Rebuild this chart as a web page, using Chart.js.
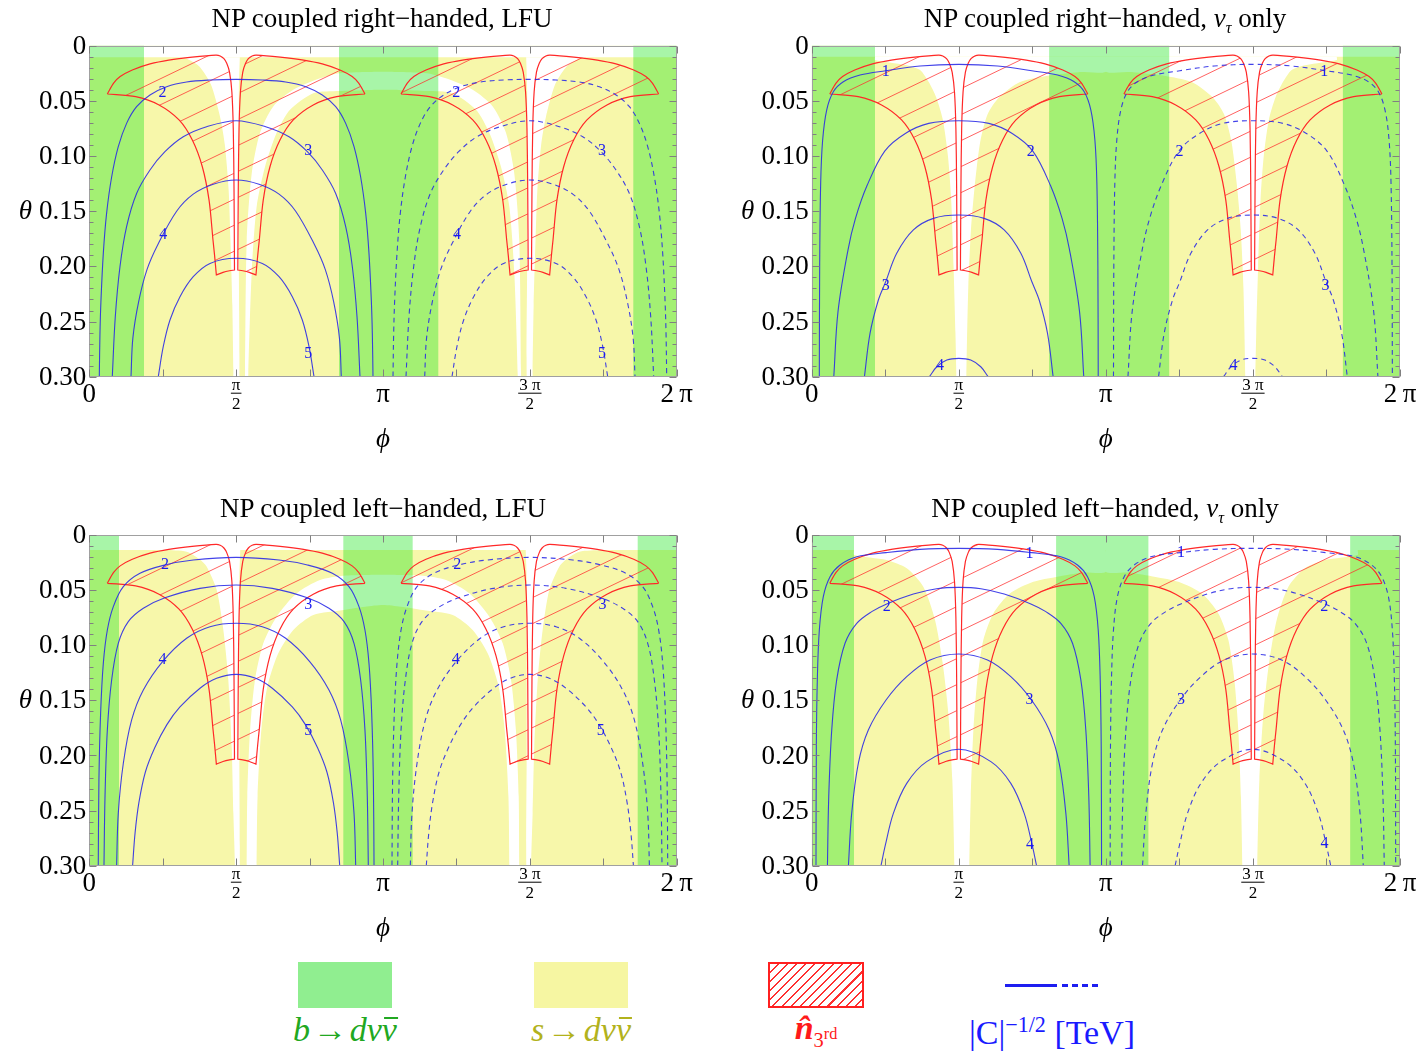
<!DOCTYPE html>
<html>
<head>
<meta charset="utf-8">
<script src="https://cdn.jsdelivr.net/npm/chart.js"></script>
<style>
  body { margin: 0; width: 1426px; height: 1053px; background: #fff; position: relative; overflow: hidden;
         font-family: "Liberation Serif", "Times New Roman", serif; }
  canvas { position: absolute; }
  .title { position: absolute; font-size: 27px; white-space: nowrap; transform: translate(-50%, -50%); line-height: 1; }
  .title sub { font-size: 0.6em; font-style: italic; line-height: 0; }
  .box { position: absolute; }
  .lt { position: absolute; font-size: 34px; white-space: nowrap; transform: translate(-50%, -50%); line-height: 1; }
  .lt sub, .lt sup { line-height: 0; }
  .ob { position: relative; display: inline-block; }
  .ob::after { content: ''; position: absolute; left: 18%; right: -8%; top: 0.12em; border-top: 2px solid currentColor; }
</style>
</head>
<body>
<canvas id="p1" width="713" height="470" style="left:0;top:0"></canvas>
<canvas id="p2" width="713" height="470" style="left:713px;top:0"></canvas>
<canvas id="p3" width="713" height="470" style="left:0;top:490px"></canvas>
<canvas id="p4" width="713" height="470" style="left:713px;top:490px"></canvas>

<div class="title" style="left:382px;top:18px">NP coupled right−handed, LFU</div>
<div class="title" style="left:1105px;top:18px">NP coupled right−handed, <i>ν</i><sub>τ</sub> only</div>
<div class="title" style="left:383px;top:508px">NP coupled left−handed, LFU</div>
<div class="title" style="left:1105px;top:508px">NP coupled left−handed, <i>ν</i><sub>τ</sub> only</div>

<!-- legend -->
<div class="box" style="left:298px;top:962px;width:94px;height:46px;background:#90ee90"></div>
<div class="box" style="left:534px;top:962px;width:94px;height:46px;background:#f6f6a2"></div>
<div class="box" style="left:768px;top:962px;width:92px;height:42px;border:2px solid #ff2020;
     background:repeating-linear-gradient(135deg, transparent 0 5px, #ff3030 5px 6.5px)"></div>
<div class="box" style="left:1005px;top:984px;width:52px;height:3px;background:#1e1ef0"></div>
<div class="box" style="left:1062px;top:984px;width:38px;height:3px;background:repeating-linear-gradient(90deg,#1e1ef0 0 6px,transparent 6px 10px)"></div>
<div class="lt" style="left:345px;top:1030px;color:#21a821"><i>b</i>&#8202;→&#8202;<i>dν</i><i class="ob">ν</i></div>
<div class="lt" style="left:581px;top:1030px;color:#b2b21c"><i>s</i>&#8202;→&#8202;<i>dν</i><i class="ob">ν</i></div>
<div class="lt" style="left:816px;top:1028px;color:#ff1a1a"><i><b>n̂</b></i><sub style="font-size:0.6em">3<sup style="font-size:0.8em">rd</sup></sub></div>
<div class="lt" style="left:1052px;top:1033px;color:#1a1aff">|C|<sup style="font-size:0.65em">−1/2</sup> [TeV]</div>

<script>
const TWO_PI = 2 * Math.PI;

// axis ticks (phi in radians, theta)
const phiTickMarks = [0, 0.25, 0.5, 0.75, 1, 1.25, 1.5, 1.75, 2].map(k => k * Math.PI);
const phiLabelVals = [0, Math.PI / 2, Math.PI, 3 * Math.PI / 2, TWO_PI];
const phiLabelText = ['0', ['π', '2'], 'π', ['3 π', '2'], '2\u2009π'];
const thetaLabelVals = [0, 0.05, 0.10, 0.15, 0.20, 0.25, 0.30];
const thetaLabelText = ['0', '0.05', '0.10', '0.15', '0.20', '0.25', '0.30'];

// n_3rd region: left half of the cup around pi/2, [phi, theta]
const cupHalf = [[0.193,0.0438],[0.193,0.0438],[0.26,0.034],[0.33,0.028],[0.46,0.022],[0.65,0.0165],[0.85,0.013],
  [1.10,0.0103],[1.355,0.0085],[1.40,0.0093],[1.44,0.0118],[1.47,0.016],[1.50,0.024],[1.525,0.042],[1.540,0.075],
  [1.548,0.13],[1.553,0.2033],[1.553,0.2033],[1.50,0.2040],[1.43,0.2055],[1.359,0.2078],[1.359,0.2078],[1.34,0.19],
  [1.323,0.1761],[1.281,0.140],[1.209,0.1097],[1.102,0.0855],[0.960,0.0673],[0.746,0.0537],[0.496,0.0462],[0.193,0.0438]];

// ---------- panel 1 : right-handed, LFU ----------
const p1Strips = [[0, 0.585], [2.671, 3.733], [5.819, TWO_PI]];
const p1Top = 0.0105;
const p1V = [[0.95,0.0105],[1.05,0.012],[1.18,0.019],[1.30,0.035],[1.40,0.065],[1.45,0.09],[1.49,0.13],[1.51,0.176],
  [1.53,0.235],[1.541,0.294],[1.545,0.32],[1.60,0.32],[1.60,0.20],[1.60,0.10],[1.60,0.04],[1.61,0.0105]];
const p1BandUp = [[1.664,0.32],[1.666,0.294],[1.684,0.176],[1.737,0.116],[1.826,0.079],[1.968,0.055],[2.182,0.040],
  [2.468,0.0296],[2.674,0.025],[2.95,0.0238],[3.1416,0.0235]];
const p1BandLow = [[1.70,0.32],[1.701,0.297],[1.737,0.206],[1.790,0.146],[1.879,0.110],[2.004,0.079],[2.147,0.058],
  [2.396,0.043],[2.674,0.041],[2.95,0.0403],[3.1416,0.040]];
const p1C2 = [[0.107,0.30],[0.114,0.261],[0.125,0.2305],[0.150,0.188],[0.185,0.152],[0.239,0.119],[0.310,0.0915],
  [0.399,0.0704],[0.506,0.0553],[0.649,0.0447],[0.827,0.0372],[1.041,0.0329],[1.291,0.0311],[1.571,0.0305]];
const p1C3 = [[0.246,0.30],[0.278,0.2457],[0.328,0.2003],[0.399,0.164],[0.506,0.134],[0.649,0.1127],[0.809,0.0961],
  [1.005,0.0825],[1.255,0.0734],[1.571,0.068]];
const p1C4 = [[0.446,0.30],[0.466,0.265],[0.528,0.232],[0.617,0.203],[0.735,0.180],[0.934,0.150],[1.112,0.1345],
  [1.326,0.1255],[1.571,0.1217]];
const p1C5 = [[0.738,0.30],[0.791,0.2728],[0.863,0.2486],[0.970,0.2275],[1.112,0.2094],[1.291,0.1973],[1.571,0.1927]];
const p1Labels = [[0.784,0.043,'2'],[2.342,0.095,'3'],[0.791,0.1716,'4'],[2.342,0.2795,'5'],
  [3.926,0.043,'2'],[5.484,0.095,'3'],[3.933,0.1716,'4'],[5.484,0.2795,'5']];

// ---------- panel 2 : right-handed, nu_tau only ----------
const p2Strips = [[0, 0.676], [2.536, 3.818], [5.673, TWO_PI]];
const p2Top = 0.0100;
const p2V = [[0.676,0.0100],[0.676,0.0129],[1.0,0.0175],[1.157,0.022],[1.25,0.033],[1.33,0.047],[1.40,0.067],[1.455,0.10],
  [1.49,0.14],[1.515,0.20],[1.535,0.26],[1.545,0.30],[1.545,0.32],[1.652,0.32],[1.652,0.30],[1.672,0.22],[1.70,0.168],
  [1.74,0.128],[1.80,0.087],[1.88,0.062],[2.0,0.047],[2.225,0.033],[2.536,0.027],[2.85,0.024],[3.1416,0.0235],[3.1416,0.0100]];
const p2C1 = [[0.0815,0.30],[0.0851,0.2003],[0.0958,0.1248],[0.117,0.0855],[0.160,0.0583],[0.231,0.0417],[0.338,0.0326],
  [0.516,0.0266],[0.790,0.0227],[1.157,0.0184],[1.571,0.0169]];
const p2C2 = [[0.236,0.30],[0.281,0.241],[0.388,0.185],[0.466,0.157],[0.590,0.127],[0.780,0.0955],[1.000,0.0795],
  [1.250,0.0704],[1.571,0.068]];
const p2C3 = [[0.563,0.30],[0.623,0.2607],[0.712,0.2305],[0.790,0.2140],[0.908,0.1882],[1.086,0.167],[1.300,0.1565],[1.571,0.1535]];
const p2C4 = [[1.257,0.30],[1.336,0.291],[1.443,0.2849],[1.571,0.2834]];
const p2Labels = [[0.79,0.0236,'1'],[2.34,0.096,'2'],[0.79,0.218,'3'],[1.371,0.290,'4'],
  [5.473,0.0236,'1'],[3.927,0.096,'2'],[5.487,0.218,'3'],[4.504,0.290,'4']];

// ---------- panel 3 : left-handed, LFU ----------
const p3Strips = [[0, 0.318], [2.717, 3.459], [5.866, TWO_PI]];
const p3Top = 0.0136;
const p3V = [[0.8,0.0136],[1.042,0.0151],[1.18,0.022],[1.256,0.0287],[1.363,0.0499],[1.434,0.0862],[1.487,0.1315],
  [1.523,0.192],[1.541,0.2525],[1.558,0.30],[1.558,0.32],[1.605,0.32],[1.605,0.20],[1.605,0.10],[1.605,0.04],[1.615,0.0136]];
const p3BandUp = [[1.684,0.32],[1.684,0.30],[1.69,0.237],[1.72,0.177],[1.772,0.1315],[1.861,0.0983],[2.004,0.0741],
  [2.218,0.0529],[2.468,0.0408],[2.717,0.0369],[2.95,0.0362],[3.1416,0.036]];
const p3BandLow = [[1.79,0.32],[1.79,0.30],[1.80,0.237],[1.84,0.177],[1.904,0.1376],[2.022,0.1073],[2.182,0.0862],
  [2.396,0.0726],[2.717,0.0680],[2.95,0.065],[3.1416,0.0635]];
const p3C2 = [[0.096,0.30],[0.103,0.2223],[0.121,0.1618],[0.150,0.1164],[0.193,0.0862],[0.257,0.065],[0.364,0.0469],
  [0.542,0.0348],[0.809,0.0272],[1.112,0.0227],[1.571,0.0203]];
const p3C3 = [[0.157,0.30],[0.168,0.2374],[0.193,0.1769],[0.239,0.1315],[0.310,0.0983],[0.417,0.0786],[0.578,0.0665],
  [0.809,0.057],[1.184,0.0484],[1.571,0.0454]];
const p3C4 = [[0.292,0.30],[0.310,0.2525],[0.364,0.2071],[0.453,0.1678],[0.578,0.1406],[0.784,0.1148],[1.041,0.0937],
  [1.291,0.0832],[1.571,0.0801]];
const p3C5 = [[0.463,0.30],[0.49,0.27],[0.53,0.243],[0.60,0.215],[0.70,0.193],[0.83,0.172],[0.97,0.156],[1.184,0.139],
  [1.362,0.130],[1.571,0.1264]];
const p3Labels = [[0.809,0.0272,'2'],[2.342,0.0635,'3'],[0.784,0.1134,'4'],[2.342,0.1775,'5'],
  [3.937,0.0272,'2'],[5.49,0.0635,'3'],[3.92,0.1134,'4'],[5.47,0.1775,'5']];

// ---------- panel 4 : left-handed, nu_tau only ----------
const p4Strips = [[0, 0.452], [2.610, 3.596], [5.751, TWO_PI]];
const p4Top = 0.0136;
const p4V = [[0.452,0.0136],[0.452,0.0181],[0.80,0.0227],[1.015,0.0302],[1.192,0.0469],[1.317,0.0771],[1.399,0.1164],
  [1.459,0.1618],[1.502,0.2223],[1.524,0.30],[1.524,0.32],[1.684,0.32],[1.684,0.30],[1.699,0.2374],[1.727,0.1769],
  [1.769,0.1315],[1.833,0.0953],[1.940,0.0711],[2.119,0.0529],[2.367,0.0424],[2.610,0.038],[2.9,0.034],[3.1416,0.0333],[3.1416,0.0136]];
const p4C1 = [[0.046,0.30],[0.0495,0.192],[0.060,0.1315],[0.0815,0.0862],[0.124,0.0559],[0.196,0.0378],[0.303,0.0272],
  [0.481,0.0197],[0.794,0.016],[1.157,0.013],[1.571,0.0121]];
const p4C2 = [[0.168,0.30],[0.182,0.2374],[0.214,0.1769],[0.267,0.1315],[0.356,0.0982],[0.481,0.0801],[0.641,0.0695],
  [0.801,0.0625],[1.086,0.0535],[1.335,0.0487],[1.571,0.0475]];
const p4C3 = [[0.392,0.30],[0.427,0.2525],[0.498,0.2071],[0.605,0.1769],[0.794,0.1497],[1.015,0.1285],[1.264,0.1134],[1.571,0.108]];
const p4C4 = [[0.740,0.30],[0.787,0.2812],[0.872,0.2525],[1.015,0.2253],[1.228,0.2056],[1.571,0.1944]];
const p4Labels = [[2.325,0.0172,'1'],[0.801,0.065,'2'],[2.325,0.1497,'3'],[2.332,0.2812,'4'],
  [3.945,0.0160,'1'],[5.473,0.065,'2'],[3.945,0.1497,'3'],[5.476,0.2800,'4']];

const YELLOW = 'rgb(247,247,170)';
const WHITE = '#ffffff';
const GREEN = 'rgba(24,229,24,0.376)';   // light green on white, darker green over yellow
const RED = 'rgb(255,40,40)';
const BLUE = 'rgba(40,40,230,0.88)';

const panels = [
  {id: 'p1', strips: p1Strips, top: p1Top, v: p1V, band: [p1BandUp, p1BandLow], curves: [p1C2, p1C3, p1C4, p1C5], labels: p1Labels,
   pad: {left: 89.3, top: 45.7, right: 36.3, bottom: 93.3}},
  {id: 'p2', strips: p2Strips, top: p2Top, v: p2V, band: null, curves: [p2C1, p2C2, p2C3, p2C4], labels: p2Labels,
   pad: {left: 98.7, top: 45.7, right: 26, bottom: 93.3}},
  {id: 'p3', strips: p3Strips, top: p3Top, v: p3V, band: [p3BandUp, p3BandLow], curves: [p3C2, p3C3, p3C4, p3C5], labels: p3Labels,
   pad: {left: 89.3, top: 45, right: 36.3, bottom: 94.3}},
  {id: 'p4', strips: p4Strips, top: p4Top, v: p4V, band: null, curves: [p4C1, p4C2, p4C3, p4C4], labels: p4Labels,
   pad: {left: 98.7, top: 45, right: 26, bottom: 94.3}}
];

// helpers
const pts = a => a.map(([x, y]) => ({x, y}));
const aboutHalfPi = a => a.map(([x, y]) => [Math.PI - x, y]);
const aboutPi = a => a.map(([x, y]) => [TWO_PI - x, y]);
const shiftPi = a => a.map(([x, y]) => [x + Math.PI, y]);
const arch = half => half.concat(aboutHalfPi(half).reverse().slice(1));
const bandArch = half => half.concat(aboutPi(half).reverse().slice(1));

function buildDatasets(p, hatch) {
  const ds = [];
  const poly = (arr, color, order, tension) => ds.push({
    data: pts(arr), fill: 'shape', backgroundColor: color, borderColor: 'transparent',
    borderWidth: 0, pointRadius: 0, tension: tension || 0, order
  });
  poly([[0, -0.01], [TWO_PI, -0.01], [TWO_PI, 0.31], [0, 0.31]], YELLOW, 10);
  poly([[0, -0.01], [TWO_PI, -0.01], [TWO_PI, p.top], [0, p.top]], WHITE, 9);
  poly(p.v, WHITE, 9, 0.25);
  poly(aboutPi(p.v), WHITE, 9, 0.25);
  if (p.band) {
    const up = bandArch(p.band[0]), low = bandArch(p.band[1]);
    poly(up.concat(low.reverse()), WHITE, 9, 0.25);
  }
  p.strips.forEach(([a, b]) => poly([[a, -0.01], [b, -0.01], [b, 0.31], [a, 0.31]], GREEN, 8));
  [cupHalf, aboutHalfPi(cupHalf), shiftPi(cupHalf), shiftPi(aboutHalfPi(cupHalf))].forEach(c => ds.push({
    data: pts(c), fill: 'shape', backgroundColor: hatch, borderColor: RED, borderWidth: 1.2,
    pointRadius: 0, tension: 0.3, order: 6
  }));
  p.curves.forEach(h => {
    const full = arch(h);
    ds.push({data: pts(full), borderColor: BLUE, borderWidth: 1.1, pointRadius: 0, tension: 0.35, fill: false, order: 4});
    ds.push({data: pts(shiftPi(full)), borderColor: BLUE, borderWidth: 1.1, borderDash: [5, 4], pointRadius: 0,
      tension: 0.35, fill: false, order: 4});
  });
  return ds;
}

function makeFrame(p) {
  return {
    id: 'frame_' + p.id,
    afterDatasetsDraw(chart) {
      const {ctx, chartArea: a} = chart;
      const xs = chart.scales.x, ys = chart.scales.y;
      ctx.save();
      // contour values
      ctx.font = '16px "Liberation Serif", serif';
      ctx.fillStyle = '#1c1cf0';
      ctx.textAlign = 'center';
      ctx.textBaseline = 'middle';
      p.labels.forEach(([ph, th, s]) => ctx.fillText(s, xs.getPixelForValue(ph), ys.getPixelForValue(th)));

      // frame and inward ticks
      const L = Math.round(a.left) + 0.5, R = Math.round(a.right) - 0.5;
      const T = Math.round(a.top) + 0.5, B = Math.round(a.bottom) - 0.5;
      ctx.strokeStyle = '#a0a0a0';
      ctx.lineWidth = 1;
      ctx.strokeRect(L, T, R - L, B - T);
      ctx.beginPath();
      phiTickMarks.forEach(v => {
        const px = Math.round(xs.getPixelForValue(v)) + 0.5;
        ctx.moveTo(px, B); ctx.lineTo(px, B - 7);
        ctx.moveTo(px, T); ctx.lineTo(px, T + 7);
      });
      for (let i = 0; i <= 30; i++) {
        const py = Math.round(ys.getPixelForValue(i / 100)) + 0.5;
        const len = i % 5 === 0 ? 7 : 4;
        ctx.moveTo(L, py); ctx.lineTo(L + len, py);
        ctx.moveTo(R, py); ctx.lineTo(R - len, py);
      }
      ctx.strokeStyle = '#808080';
      ctx.stroke();

      // theta labels
      ctx.fillStyle = '#000';
      ctx.font = '27px "Liberation Serif", serif';
      ctx.textAlign = 'right';
      ctx.textBaseline = 'middle';
      thetaLabelVals.forEach((v, i) => ctx.fillText(thetaLabelText[i], a.left - 3, ys.getPixelForValue(v) + 1));

      // phi labels
      ctx.textAlign = 'center';
      ctx.textBaseline = 'alphabetic';
      phiLabelVals.forEach((v, i) => {
        const px = xs.getPixelForValue(v);
        const t = phiLabelText[i];
        if (Array.isArray(t)) {
          ctx.font = '17px "Liberation Serif", serif';
          ctx.fillText(t[0], px, a.bottom + 13);
          const w = ctx.measureText(t[0]).width + 2;
          ctx.fillRect(px - w / 2, a.bottom + 16, w, 1);
          ctx.fillText(t[1], px, a.bottom + 32);
        } else {
          ctx.font = '27px "Liberation Serif", serif';
          ctx.fillText(t, px, a.bottom + 25);
        }
      });

      // axis names
      ctx.font = 'italic 27px "Liberation Serif", serif';
      ctx.textBaseline = 'middle';
      ctx.fillText('θ', a.left - 64, ys.getPixelForValue(0.15) + 1);
      ctx.fillText('ϕ', (a.left + a.right) / 2, a.bottom + 63);
      ctx.restore();
    }
  };
}

panels.forEach(p => {
  const canvas = document.getElementById(p.id);
  const c2d = canvas.getContext('2d');
  // hatch tile for the n_3rd region
  const tile = document.createElement('canvas');
  tile.width = 54; tile.height = 26;
  const t = tile.getContext('2d');
  t.strokeStyle = 'rgba(255,45,45,0.75)';
  t.lineWidth = 1;
  [-1, 0, 1].forEach(k => { t.beginPath(); t.moveTo(0, 26 + 26 * k); t.lineTo(54, 26 * k); t.stroke(); });
  const hatch = c2d.createPattern(tile, 'repeat');

  new Chart(c2d, {
    type: 'line',
    data: {datasets: buildDatasets(p, hatch)},
    options: {
      responsive: false,
      animation: false,
      events: [],
      layout: {padding: p.pad},
      scales: {
        x: {type: 'linear', min: 0, max: TWO_PI, display: false},
        y: {type: 'linear', min: 0, max: 0.3, reverse: true, display: false}
      },
      plugins: {legend: {display: false}, tooltip: {enabled: false}}
    },
    plugins: [makeFrame(p)]
  });
});
</script>
</body>
</html>
